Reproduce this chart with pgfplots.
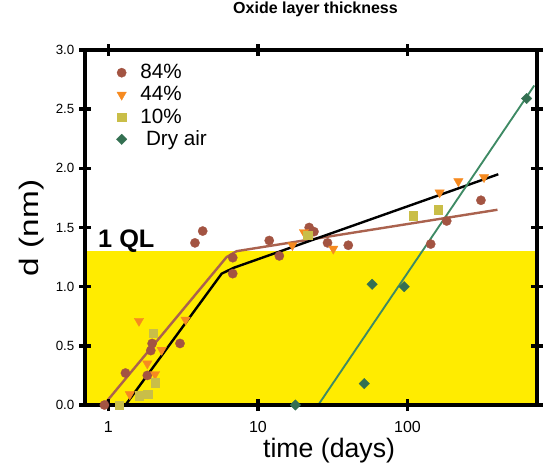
\documentclass[border=0pt]{standalone}
\usepackage{fontspec}
\setmainfont{Liberation Sans}
\usepackage{pgfplots}
\pgfplotsset{compat=1.18}

\definecolor{qlyellow}{RGB}{255,236,0}
\definecolor{cbrown}{RGB}{163,84,66}
\definecolor{lbrown}{RGB}{170,98,78}
\definecolor{corange}{RGB}{246,138,32}
\definecolor{colive}{RGB}{201,190,72}
\definecolor{cgreen}{RGB}{52,112,82}
\definecolor{lgreen}{RGB}{62,138,100}

\begin{document}
\begin{tikzpicture}
\useasboundingbox (-63.75pt,-45pt) rectangle (343.5pt,303.75pt);
\begin{axis}[
  at={(0,0)}, anchor=south west,
  width=339pt, height=266.25pt, scale only axis,
  xmode=log, xmin=0.697, xmax=735, ymin=0, ymax=3,
  xtick={1,10,100}, xticklabels={1,10,100},
  xminorticks=false,
  ytick={0,0.5,1,1.5,2,2.5,3},
  yticklabel style={/pgf/number format/fixed, /pgf/number format/fixed zerofill,
    /pgf/number format/precision=1, font=\fontsize{10}{12}\selectfont},
  xticklabel style={font=\fontsize{12}{14}\selectfont, yshift=-4.5pt},
  /pgf/number format/assume math mode=true,
  tick pos=both, ticklabel pos=left,
  tick align=center, major tick length=9pt,
  tick style={black, line width=2.6pt},
  axis line style={line width=3pt},
  axis on top,
  title={Oxide layer thickness},
  title style={at={(axis description cs:0.51,1.079)}, anchor=base,
    font=\bfseries\fontsize{12}{14}\selectfont},
  xlabel={time (days)},
  xlabel style={at={(axis description cs:0.54,-0.149)}, anchor=base,
    font=\fontsize{20}{24}\selectfont},
  ylabel={\scalebox{1.25}[1]{d (nm)}},
  ylabel style={at={(axis description cs:-0.103,0.499)}, anchor=base, rotate=0,
    font=\fontsize{20}{24}\selectfont},
  legend style={at={(axis description cs:0.06,0.975)}, anchor=north west,
    draw=none, fill=none, font=\fontsize{15.5}{16}\selectfont,
    row sep=0.3pt, /tikz/every odd column/.append style={column sep=8pt}},
  legend cell align=left,
]
\addplot[draw=none, fill=qlyellow, forget plot] coordinates {(0.697,1.3) (735,1.3)} \closedcycle;

\addplot[only marks, color=cbrown, mark=*, mark size=3.5pt, mark options={line width=0.2pt}] coordinates {
(0.94,0.0) (1.30,0.27) (1.82,0.25) (1.92,0.46) (1.96,0.52) (3.01,0.52)
(3.79,1.37) (4.27,1.47) (6.78,1.245) (6.78,1.11) (11.9,1.39) (13.9,1.26)
(22.0,1.50) (23.7,1.465) (29.2,1.37) (40.2,1.35) (143,1.36) (183,1.555) (310,1.73)
};
\addplot[only marks, color=corange, mark=triangle*, mark size=4.1pt, mark options={line width=0.2pt, rotate=180}] coordinates {
(1.39,0.09) (1.60,0.71) (1.82,0.35) (2.05,0.26) (2.27,0.465) (3.28,0.72)
(17.0,1.35) (20.3,1.46) (31.9,1.32) (164,1.795) (219,1.89) (325,1.925)
};
\addplot[only marks, color=colive, mark=square*, mark size=3.1pt, mark options={line width=0.2pt}] coordinates {
(1.18,0.0) (1.61,0.08) (1.83,0.09) (2.05,0.19) (1.99,0.61)
(21.5,1.435) (109,1.60) (161,1.65)
};
\addplot[only marks, color=cgreen, mark=square*, mark size=2.8pt, mark options={line width=0.2pt, rotate=45}] coordinates {
(17.8,0.0) (51.4,0.18) (58.0,1.02) (95.0,1.00) (627,2.59)
};
\legend{84\%, 44\%, 10\%, \ Dry air}

\addplot[lbrown, line width=1.8pt, forget plot] coordinates {
(0.93,0) (6.17,1.25) (7.2,1.30) (400,1.65)
};
\addplot[black, line width=1.8pt, forget plot] coordinates {
(1.30,0) (5.72,1.11) (6.9,1.16) (405,1.95)
};
\addplot[lgreen, line width=1.4pt, forget plot] coordinates {
(25.3,0) (705,2.70)
};

\draw[line width=3pt, line cap=rect] (rel axis cs:0,0) rectangle (rel axis cs:1,1);
\node[anchor=base west, inner sep=0pt, font=\bfseries\fontsize{19}{22}\selectfont]
  at (axis cs:0.85,1.327) {1 QL};
\end{axis}
\end{tikzpicture}
\end{document}
